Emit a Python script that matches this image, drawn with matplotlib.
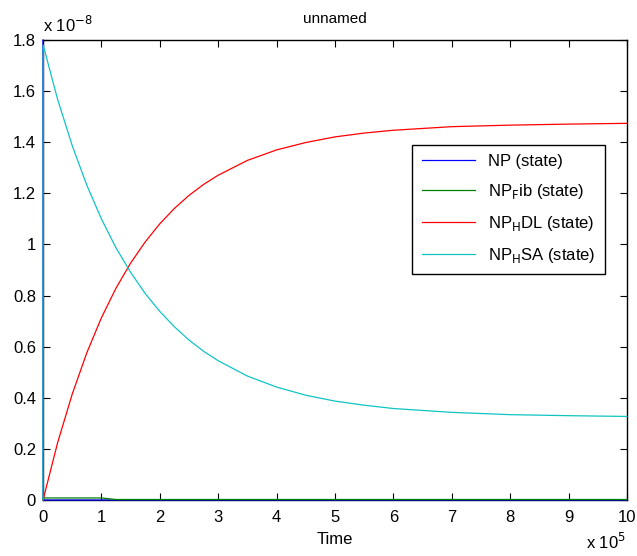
import matplotlib

matplotlib.use("Agg")
from matplotlib import pyplot as plt  # noqa: E402

plt.rcParams["font.family"] = ["Liberation Sans", "DejaVu Sans"]

# time axis in units of 1e5, states in units of 1e-8
time = [0, 0.003, 0.25, 0.5, 0.75, 1, 1.25, 1.5, 1.75, 2, 2.25, 2.5, 2.75,
        3, 3.5, 4, 4.5, 5, 5.5, 6, 7, 8, 9, 10]
np_state = [1.8, 0, 0, 0, 0, 0, 0, 0, 0, 0, 0, 0, 0,
            0, 0, 0, 0, 0, 0, 0, 0, 0, 0, 0]
np_fib = [0, 0.008, 0.008, 0.008, 0.008, 0.008, 0.002, 0.002, 0.002, 0.002,
          0.002, 0.002, 0.002, 0.002, 0.002, 0.002, 0.002, 0.002, 0.002,
          0.002, 0.002, 0.002, 0.002, 0.002]
np_hdl = [0, 0.002, 0.224, 0.414, 0.576, 0.713, 0.829, 0.927, 1.010, 1.081,
          1.141, 1.192, 1.235, 1.271, 1.329, 1.370, 1.399, 1.421, 1.436,
          1.447, 1.461, 1.467, 1.471, 1.474]
np_hsa = [0, 1.78, 1.568, 1.387, 1.232, 1.100, 0.987, 0.891, 0.808, 0.738,
          0.678, 0.626, 0.582, 0.545, 0.485, 0.442, 0.410, 0.387, 0.371,
          0.358, 0.343, 0.334, 0.330, 0.327]

series = [
    ("NP (state)", np_state, "#0000ff"),
    (r"NP$_\mathrm{F}$ib (state)", np_fib, "#008000"),
    (r"NP$_\mathrm{H}$DL (state)", np_hdl, "#ff0000"),
    (r"NP$_\mathrm{H}$SA (state)", np_hsa, "#10c4c4"),
]

fig = plt.figure(figsize=(6.37, 5.56), dpi=100)
fig.patch.set_facecolor("white")
ax = fig.add_axes([0.0675, 0.1007, 0.9168, 0.8273])

for label, vals, color in series:
    ax.plot(time, vals, color=color, lw=0.9, label=label, zorder=3,
            clip_on=False)

ax.set_xlim(0, 10)
ax.set_ylim(0, 1.8)
ax.set_xticks(range(0, 11))
ax.set_yticks([0, 0.2, 0.4, 0.6, 0.8, 1, 1.2, 1.4, 1.6, 1.8])
ax.set_yticklabels(["0", "0.2", "0.4", "0.6", "0.8", "1", "1.2", "1.4",
                    "1.6", "1.8"])
ax.tick_params(direction="in", top=True, right=True, length=5, width=0.8,
               labelsize=12, colors="black")
ax.tick_params(axis="x", pad=7)
ax.tick_params(axis="y", pad=5)
for s in ax.spines.values():
    s.set_color("black")
    s.set_linewidth(1.0)

ax.set_title("unnamed", fontsize=11, pad=12)
ax.set_xlabel("Time", fontsize=12, labelpad=5)
ax.text(0.0, 1.012, r"x 10$^{-8}$", transform=ax.transAxes, fontsize=12,
        ha="left", va="bottom")
ax.text(0.998, -0.07, r"x 10$^{5}$", transform=ax.transAxes, fontsize=12,
        ha="right", va="top")

leg = ax.legend(loc="upper right", bbox_to_anchor=(0.962, 0.772),
                fontsize=12, handlelength=3.2, fancybox=False, framealpha=1,
                edgecolor="black", borderaxespad=0, labelspacing=0.78,
                borderpad=0.55)
leg.get_frame().set_linewidth(1.0)

fig.savefig("out.png", dpi=100, facecolor="white")
